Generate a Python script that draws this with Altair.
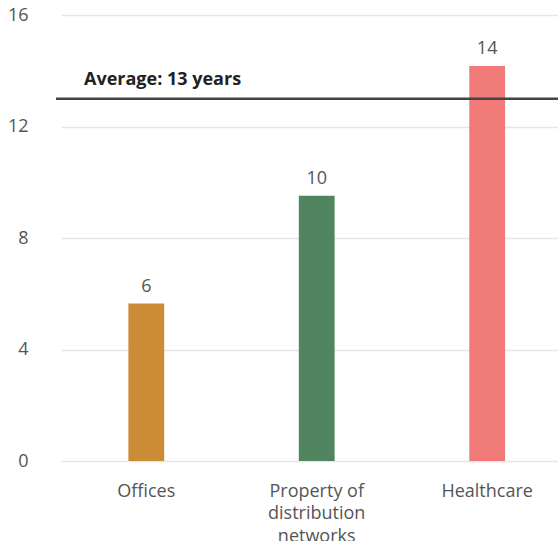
import altair as alt
import pandas as pd

categories = ["Offices", "Property of\ndistribution\nnetworks", "Healthcare"]
values = [5.65, 9.52, 14.17]
labels = ["6", "10", "14"]
colors = ["#CB8C35", "#508560", "#F07A77"]
average = 13
average_text = "Average: 13 years"
y_ticks = [0, 4, 8, 12, 16]

df = pd.DataFrame({"cat": categories, "value": values, "label": labels})
avg_df = pd.DataFrame({"avg": [average], "text": [average_text]})

FONT = "Open Sans"
FS = 18
W, H = 497, 446

x = alt.X("cat:N", sort=categories, title=None,
          scale=alt.Scale(paddingInner=0.79, paddingOuter=0.353, align=0.56),
          axis=alt.Axis(labelAngle=0, domain=False, ticks=False, labelPadding=35,
                        labelFontSize=FS, labelColor="#555555", labelFont=FONT,
                        labelLineHeight=22.5, labelExpr="split(datum.label, '\\n')",
                        labelBaseline="alphabetic"))
y = alt.Y("value:Q", title=None,
          scale=alt.Scale(domain=[0, 16], nice=False),
          axis=alt.Axis(values=y_ticks, domain=False, ticks=False, labelPadding=33,
                        labelFontSize=FS, labelColor="#555555", labelFont=FONT,
                        gridColor="#e6e6e6", gridWidth=1.5))

bars = alt.Chart(df).mark_bar().encode(
    x=x, y=y,
    color=alt.Color("cat:N", sort=categories,
                    scale=alt.Scale(domain=categories, range=colors), legend=None),
)

text = alt.Chart(df).mark_text(dy=-12, baseline="alphabetic", fontSize=FS,
                               color="#555555", font=FONT).encode(
    x=alt.X("cat:N", sort=categories), y="value:Q", text="label:N")

avg_line = alt.Chart(avg_df).mark_rule(color="#444444", strokeWidth=2.5).encode(
    y="avg:Q", x=alt.value(-5), x2=alt.value(W))

avg_text = alt.Chart(avg_df).mark_text(align="left", baseline="alphabetic", dy=-14,
                                       fontSize=FS, fontWeight="bold",
                                       color="#222222", font=FONT).encode(
    y="avg:Q", x=alt.value(23), text="text:N")

chart = alt.layer(bars, text, avg_line, avg_text).properties(
    width=W, height=H,
    background="white",
    autosize=alt.AutoSizeParams(type="none"),
    padding={"left": 61, "top": 15, "right": 0, "bottom": 80},
).configure_view(stroke=None)

chart.save("out.html", embed_options={"renderer": "svg", "actions": False})
